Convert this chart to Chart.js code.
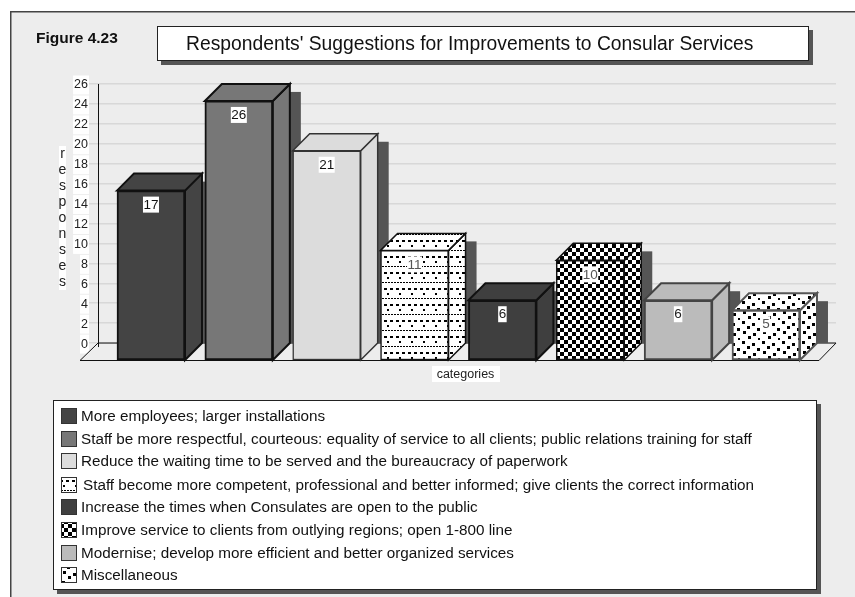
<!DOCTYPE html>
<html>
<head>
<meta charset="utf-8">
<style>html,body{margin:0;padding:0;background:#fff}canvas{display:block}</style>
<script src="https://cdn.jsdelivr.net/npm/chart.js@4/dist/chart.umd.min.js"></script>
</head>
<body>
<div style="width:855px;height:597px;position:relative"><canvas id="c" width="855" height="597"></canvas></div>
<script>
const categories = [
  "More employees; larger installations",
  "Staff be more respectful, courteous: equality of service to all clients; public relations training for staff",
  "Reduce the waiting time to be served and the bureaucracy of paperwork",
  "Staff become more competent, professional and better informed; give clients the correct information",
  "Increase the times when Consulates are open to the public",
  "Improve service to clients from outlying regions; open 1-800 line",
  "Modernise; develop more efficient and better organized services",
  "Miscellaneous"
];
const values = [17, 26, 21, 11, 6, 10, 6, 5];
const yTicks = [0, 2, 4, 6, 8, 10, 12, 14, 16, 18, 20, 22, 24, 26];
const chartTitle = "Respondents' Suggestions for Improvements to Consular Services";
const figureLabel = "Figure 4.23";
const yTitle = "responses";
const xTitle = "categories";

const FONT = '"Liberation Sans", Arial, sans-serif';
const DEPTH = 17;

function tile(w, h, paint) {
  const t = document.createElement('canvas');
  t.width = w; t.height = h;
  const g = t.getContext('2d');
  g.fillStyle = '#fff'; g.fillRect(0, 0, w, h);
  g.fillStyle = '#000';
  paint(g);
  return document.getElementById('c').getContext('2d').createPattern(t, 'repeat');
}
const denseDots = tile(12, 16, g => {
  [0, 6].forEach(x => g.fillRect(x, 0, 3, 2));
  [3].forEach(x => g.fillRect(x, 5, 2, 2));
  [1, 4, 7, 10].forEach(x => g.fillRect(x, 10, 2, 1));
});
const checker = tile(8, 8, g => {
  g.fillRect(0, 0, 4, 4);
  g.fillRect(4, 4, 4, 4);
});
const sparseDots = tile(20, 20, g => {
  [[2,1],[12,3],[7,6],[17,8],[3,11],[13,13],[8,16],[18,18]].forEach(p => g.fillRect(p[0], p[1], 3, 3));
});

const fills = ['#444444', '#777777', '#dcdcdc', denseDots, '#3f3f3f', checker, '#bbbbbb', sparseDots];
const edges = ['#111', '#111', '#333', '#111', '#111', '#111', '#444', '#555'];
const edgeWidths = [2, 2, 1.5, 1.5, 2, 1.5, 2, 2];
const labelInk = ['#111', '#111', '#111', '#555', '#222', '#555', '#222', '#555'];

const backdrop = {
  id: 'backdrop',
  beforeDraw(chart) {
    const c = chart.ctx;
    c.save();
    c.fillStyle = '#ededed';
    c.fillRect(10, 11, 845, 586);
    c.fillStyle = '#444';
    c.fillRect(10, 11, 845, 1.5);
    c.fillRect(10, 11, 1.5, 586);
    // title box
    c.fillStyle = '#555';
    c.fillRect(161, 30, 652, 35);
    c.fillStyle = '#fff';
    c.fillRect(157, 26, 652, 35);
    c.strokeStyle = '#222';
    c.lineWidth = 1;
    c.strokeRect(157.5, 26.5, 651, 34);
    c.fillStyle = '#111';
    c.textBaseline = 'middle';
    c.textAlign = 'left';
    c.font = '19.3px ' + FONT;
    c.fillText(chartTitle, 186, 45);
    c.font = 'bold 15.5px ' + FONT;
    c.fillText(figureLabel, 36, 39);
    c.restore();
  }
};

const depth3d = {
  id: 'depth3d',
  beforeDatasetsDraw(chart) {
    const c = chart.ctx;
    const bars = chart.getDatasetMeta(0).data;
    const back = chart.scales.y;
    const zero = back.getPixelForValue(0);
    const top = back.getPixelForValue(26);
    c.save();
    // floor
    c.beginPath();
    c.moveTo(chart.chartArea.left - DEPTH - 1, chart.chartArea.bottom + 0.5);
    c.lineTo(chart.chartArea.right - DEPTH, chart.chartArea.bottom + 0.5);
    c.lineTo(chart.chartArea.right, zero);
    c.lineTo(chart.chartArea.left, zero);
    c.closePath();
    c.fillStyle = '#ededed';
    c.fill();
    c.strokeStyle = '#111';
    c.lineWidth = 1;
    c.stroke();
    // back wall axis
    c.beginPath();
    c.moveTo(chart.chartArea.left + 0.5, top);
    c.lineTo(chart.chartArea.left + 0.5, zero + 4);
    c.stroke();
    bars.forEach((b, i) => {
      const p = b.getProps(['x', 'y', 'base', 'width'], true);
      const l = p.x - p.width / 2, r = p.x + p.width / 2;
      // drop shadow
      c.fillStyle = '#555';
      c.fillRect(r + DEPTH, p.y - DEPTH + 8, 11, zero - (p.y - DEPTH + 8));
      // side + top faces
      c.fillStyle = fills[i];
      c.strokeStyle = edges[i];
      c.lineWidth = edgeWidths[i];
      c.beginPath();
      c.moveTo(r, p.y);
      c.lineTo(r + DEPTH, p.y - DEPTH);
      c.lineTo(r + DEPTH, p.base - DEPTH);
      c.lineTo(r, p.base);
      c.closePath();
      c.fill(); c.stroke();
      c.beginPath();
      c.moveTo(l, p.y);
      c.lineTo(l + DEPTH, p.y - DEPTH);
      c.lineTo(r + DEPTH, p.y - DEPTH);
      c.lineTo(r, p.y);
      c.closePath();
      c.fill(); c.stroke();
    });
    c.restore();
  }
};

const annotations = {
  id: 'annotations',
  afterDatasetsDraw(chart) {
    const c = chart.ctx;
    const bars = chart.getDatasetMeta(0).data;
    c.save();
    c.textBaseline = 'middle';
    c.textAlign = 'center';
    c.font = '13.5px ' + FONT;
    // value labels
    bars.forEach((b, i) => {
      const p = b.getProps(['x', 'y'], true);
      const t = String(values[i]);
      const w = c.measureText(t).width + 1;
      c.fillStyle = '#fff';
      c.fillRect(p.x - w / 2, p.y + 6, w, 16);
      c.fillStyle = labelInk[i];
      c.fillText(t, p.x, p.y + 14.5);
    });
    // y axis title, one letter per row
    c.font = '14px ' + FONT;
    yTitle.split('').forEach((ch, i) => {
      const y = 154 + i * 16;
      c.fillStyle = '#fff';
      c.fillRect(59, y - 8, 7, 16);
      c.fillStyle = '#222';
      c.fillText(ch, 62.5, y);
    });
    // x axis title
    c.font = '12.5px ' + FONT;
    c.fillStyle = '#fff';
    c.fillRect(432, 366, 68, 16);
    c.fillStyle = '#222';
    c.fillText(xTitle, 465.5, 375);
    // legend
    c.fillStyle = '#555';
    c.fillRect(57, 404, 764, 190);
    c.fillStyle = '#fff';
    c.fillRect(53, 400, 764, 190);
    c.strokeStyle = '#222';
    c.lineWidth = 1;
    c.strokeRect(53.5, 400.5, 763, 189);
    c.textAlign = 'left';
    c.font = '15.25px ' + FONT;
    const rows = [416, 439, 461, 485, 507, 530, 553, 575];
    categories.forEach((name, i) => {
      const y = rows[i];
      c.fillStyle = fills[i];
      c.fillRect(61, y - 8, 16, 16);
      c.strokeStyle = '#333';
      c.strokeRect(61.5, y - 7.5, 15, 15);
      c.fillStyle = '#111';
      c.fillText(name, i === 3 ? 83 : 81, y + 1);
    });
    c.restore();
  }
};

new Chart(document.getElementById('c'), {
  type: 'bar',
  data: {
    datasets: [{
      label: 'responses',
      data: values.map((v, i) => ({ x: i, y: v })),
      yAxisID: 'yFront',
      xAxisID: 'x',
      backgroundColor: fills,
      borderColor: edges,
      borderWidth: edgeWidths,
      borderSkipped: false,
      barThickness: 68,
      clip: false
    }]
  },
  plugins: [backdrop, depth3d, annotations],
  options: {
    responsive: false,
    animation: false,
    events: [],
    layout: { padding: { left: 0, right: 19, top: 84, bottom: 237 } },
    plugins: { legend: { display: false }, title: { display: false }, tooltip: { enabled: false } },
    scales: {
      x: { type: 'linear', min: -0.603, max: 7.797, offset: false, display: false },
      yFront: { type: 'linear', position: 'left', min: 0, max: 27.7, display: false },
      y: {
        type: 'linear',
        position: 'left',
        min: -1.7,
        max: 26,
        afterFit: s => { s.width = 98; },
        afterBuildTicks: s => { s.ticks = yTicks.map(v => ({ value: v })); },
        border: { display: false },
        grid: { color: '#d8d8d8', lineWidth: 1.5, tickLength: 9, tickColor: '#d8d8d8' },
        ticks: {
          autoSkip: false,
          padding: 1,
          labelOffset: 1,
          color: '#222',
          font: { family: FONT, size: 12.5 },
          showLabelBackdrop: true,
          backdropColor: '#fff',
          backdropPadding: { x: 1, y: 2 }
        }
      }
    }
  }
});
</script>
</body>
</html>
